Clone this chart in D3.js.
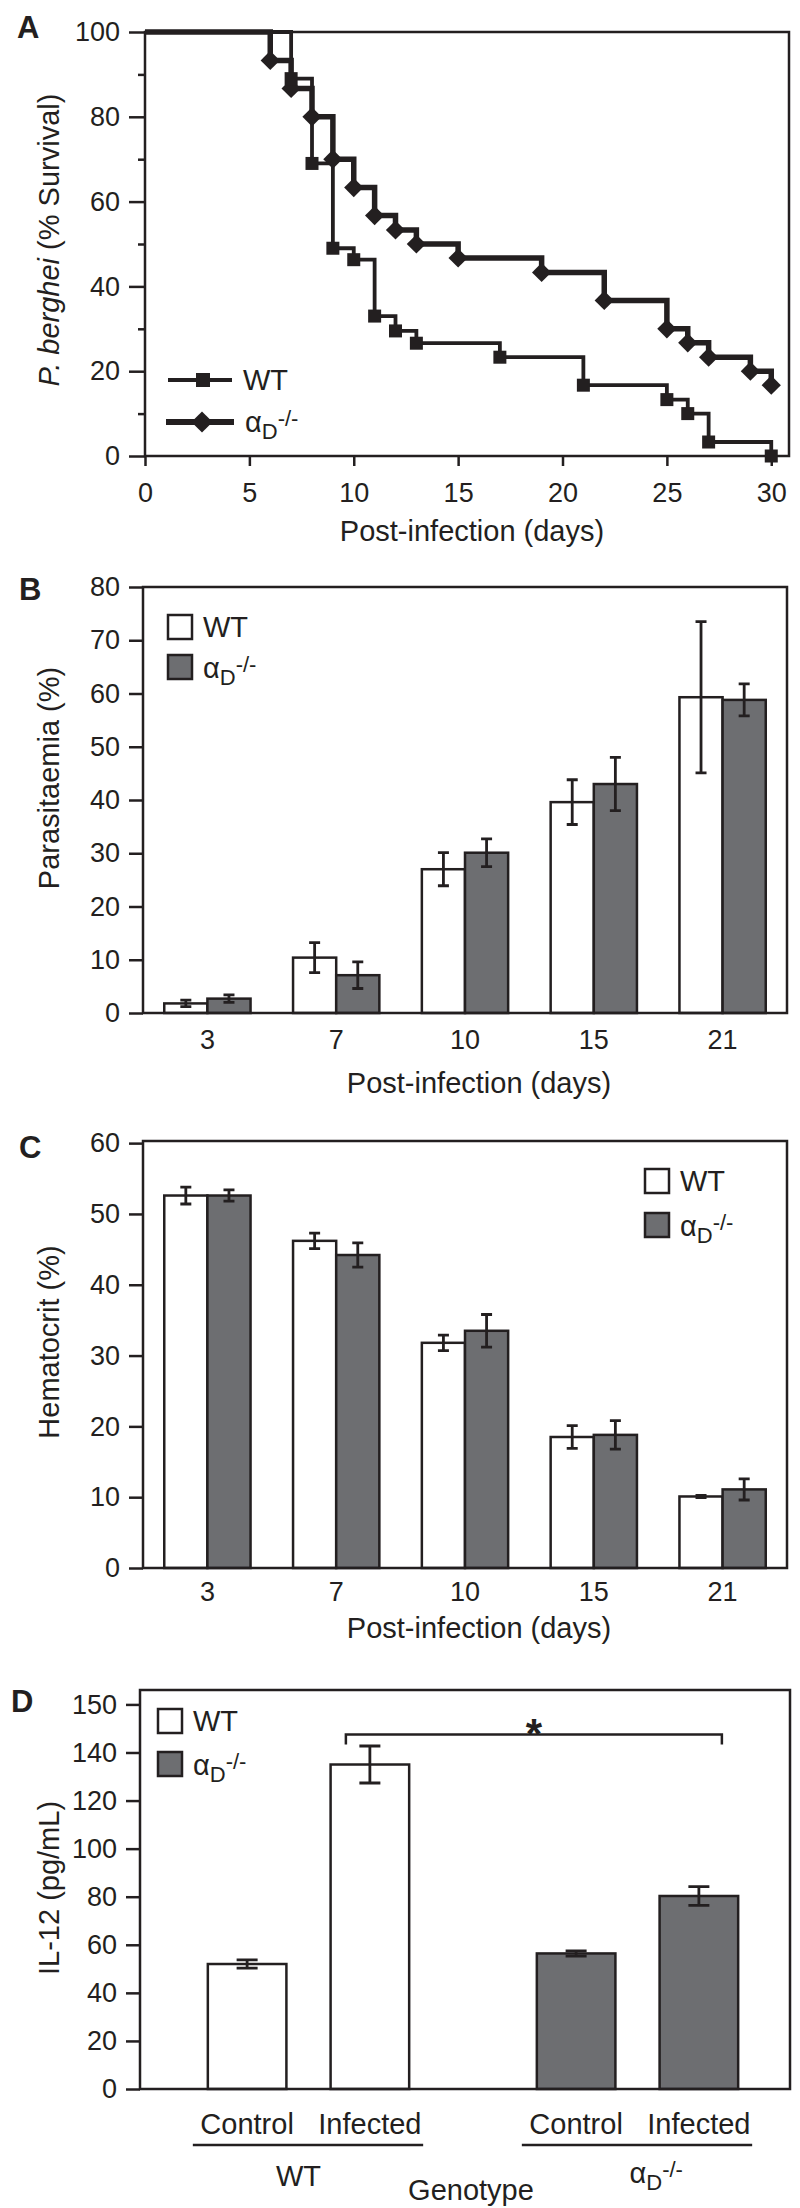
<!DOCTYPE html>
<html>
<head>
<meta charset="utf-8">
<script src="https://cdn.jsdelivr.net/npm/d3@7"></script>
<style>
  body { margin: 0; background: #fff; }
  svg { display: block; }
</style>
</head>
<body>
<div id="fig"></div>
<script>
// ---------- DATA ----------
// A: survival (Kaplan-Meier style steps)
const WT_DAYS = [0, 7, 8, 9, 10, 11, 12, 13, 17, 21, 25, 26, 27, 30];
const WT_SURV = [100, 89, 69, 49, 46.3, 33, 29.5, 26.6, 23.3, 16.7, 13.3, 10, 3.3, 0];
const KO_DAYS = [0, 6, 7, 8, 9, 10, 11, 12, 13, 15, 19, 22, 25, 26, 27, 29, 30];
const KO_SURV = [100, 93.3, 86.7, 80, 70, 63.3, 56.7, 53.3, 50, 46.7, 43.3, 36.7, 30, 26.7, 23.3, 20, 16.7];
const SURV_X_TICKS = [0, 5, 10, 15, 20, 25, 30];
const SURV_Y_TICKS = [0, 20, 40, 60, 80, 100];
const SURV_Y_MINOR = [10, 30, 50, 70, 90];

// B and C share the same days
const DAYS = ["3", "7", "10", "15", "21"];
const PARA_WT     = [1.8, 10.4, 27.0, 39.6, 59.3];
const PARA_WT_ERR = [0.6, 2.8, 3.1, 4.2, 14.2];
const PARA_KO     = [2.7, 7.1, 30.1, 43.0, 58.8];
const PARA_KO_ERR = [0.7, 2.5, 2.6, 5.0, 3.0];
const PARA_TICKS  = [0, 10, 20, 30, 40, 50, 60, 70, 80];

const HCT_WT     = [52.6, 46.2, 31.8, 18.5, 10.1];
const HCT_WT_ERR = [1.2, 1.1, 1.1, 1.6, 0.15];
const HCT_KO     = [52.6, 44.2, 33.5, 18.8, 11.1];
const HCT_KO_ERR = [0.8, 1.7, 2.3, 2.0, 1.5];
const HCT_TICKS  = [0, 10, 20, 30, 40, 50, 60];

// D: IL-12
const GENOTYPES  = ["WT", "KO"];
const CONDITIONS = ["Control", "Infected"];
const IL12_WT     = [52.0, 135.0];
const IL12_WT_ERR = [1.7, 7.7];
const IL12_KO     = [56.4, 80.3];
const IL12_KO_ERR = [1.1, 3.9];
const IL12_TICKS       = [0, 20, 40, 60, 80, 100, 120, 140, 160];
const IL12_TICK_LABELS = ["0", "20", "40", "60", "80", "100", "120", "140", "150"];

// ---------- STYLE ----------
const FONT = "'Liberation Sans', Arial, Helvetica, sans-serif";
const INK = "#231f20";
const GRAY = "#6d6e71";
const TICK_FS = 27;
const LABEL_FS = 29;

const SVG = d3.select("#fig").append("svg")
    .attr("width", 800)
    .attr("height", 2208)
    .attr("font-family", FONT);

// ---------- HELPERS ----------
function styleAxis(g, fs) {
  g.attr("font-family", FONT).attr("font-size", fs);
  g.select(".domain").remove();
  g.selectAll(".tick line").attr("stroke", INK).attr("stroke-width", 2.5);
  g.selectAll(".tick text").attr("fill", INK);
}

function frame(p) {
  SVG.append("rect")
      .attr("x", p.left).attr("y", p.top)
      .attr("width", p.right - p.left)
      .attr("height", p.bottom - p.top)
      .attr("fill", "none")
      .attr("stroke", INK)
      .attr("stroke-width", 2.5);
}

function panelLetter(txt, x, y) {
  SVG.append("text").attr("x", x).attr("y", y)
      .attr("font-size", 31).attr("font-weight", "bold")
      .attr("fill", INK).text(txt);
}

function yTitle(x, yc, build) {
  const t = SVG.append("text")
      .attr("transform", "translate(" + x + "," + yc + ") rotate(-90)")
      .attr("text-anchor", "middle")
      .attr("font-size", LABEL_FS)
      .attr("fill", INK);
  build(t);
}

function xTitle(x, y, txt) {
  SVG.append("text").attr("x", x).attr("y", y)
      .attr("text-anchor", "middle")
      .attr("font-size", LABEL_FS)
      .attr("fill", INK).text(txt);
}

// alpha_D -/- label
function koLabel(sel, x, y, anchor) {
  const t = sel.append("text").attr("x", x).attr("y", y)
      .attr("font-size", LABEL_FS).attr("fill", INK)
      .attr("text-anchor", anchor || "start");
  t.append("tspan").text("\u03b1");
  t.append("tspan").attr("font-size", 22).attr("dy", 7).text("D");
  t.append("tspan").attr("font-size", 22).attr("dy", -13).text("-/-");
  return t;
}

function boxLegend(x, y1, y2, size) {
  SVG.append("rect").attr("x", x).attr("y", y1).attr("width", size).attr("height", size)
      .attr("fill", "#fff").attr("stroke", INK).attr("stroke-width", 2.5);
  SVG.append("text").attr("x", x + size + 11).attr("y", y1 + size - 2)
      .attr("font-size", LABEL_FS).attr("fill", INK).text("WT");
  SVG.append("rect").attr("x", x).attr("y", y2).attr("width", size).attr("height", size)
      .attr("fill", GRAY).attr("stroke", INK).attr("stroke-width", 2.5);
  koLabel(SVG, x + size + 11, y2 + size - 1);
}

function errorBar(g, cx, y, v, e, capW) {
  const path = d3.path();
  path.moveTo(cx, y(v + e)); path.lineTo(cx, y(v - e));
  path.moveTo(cx - capW / 2, y(v + e)); path.lineTo(cx + capW / 2, y(v + e));
  path.moveTo(cx - capW / 2, y(v - e)); path.lineTo(cx + capW / 2, y(v - e));
  g.append("path").attr("d", path.toString())
      .attr("fill", "none").attr("stroke", INK).attr("stroke-width", 2.8);
}

// ---------- PANEL A ----------
const PA = {left: 145, right: 789, top: 32, bottom: 456};
const X_A = d3.scaleLinear().domain([0, 30.85]).range([PA.left, PA.right]);
const Y_A = d3.scaleLinear().domain([0, 100]).range([PA.bottom, PA.top]);

const stepLine = d3.line()
    .x(d => X_A(d[0]))
    .y(d => Y_A(d[1]))
    .curve(d3.curveStepAfter);

const wtPts = WT_DAYS.map((d, i) => [d, WT_SURV[i]]);
const koPts = KO_DAYS.map((d, i) => [d, KO_SURV[i]]);

frame(PA);

SVG.append("path").datum(koPts)
    .attr("d", stepLine).attr("fill", "none")
    .attr("stroke", INK).attr("stroke-width", 5.5);
SVG.append("path").datum(wtPts)
    .attr("d", stepLine).attr("fill", "none")
    .attr("stroke", INK).attr("stroke-width", 3.8);

SVG.selectAll(".ko-pt").data(koPts.slice(1)).enter()
  .append("rect")
    .attr("class", "ko-pt")
    .attr("x", -6.8).attr("y", -6.8).attr("width", 13.6).attr("height", 13.6)
    .attr("transform", d => "translate(" + X_A(d[0]) + "," + Y_A(d[1]) + ") rotate(45)")
    .attr("fill", INK);

SVG.selectAll(".wt-pt").data(wtPts.slice(1)).enter()
  .append("rect")
    .attr("class", "wt-pt")
    .attr("x", d => X_A(d[0]) - 6.5).attr("y", d => Y_A(d[1]) - 6.5)
    .attr("width", 13).attr("height", 13)
    .attr("fill", INK);

SVG.append("g")
    .attr("transform", "translate(" + PA.left + ",0)")
    .call(d3.axisLeft(Y_A).tickValues(SURV_Y_TICKS).tickSize(16).tickPadding(9))
    .call(g => styleAxis(g, TICK_FS));
SVG.append("g")
    .attr("transform", "translate(" + PA.left + ",0)")
    .call(d3.axisLeft(Y_A).tickValues(SURV_Y_MINOR).tickSize(7).tickFormat(""))
    .call(g => styleAxis(g, TICK_FS));
SVG.append("g")
    .attr("transform", "translate(0," + PA.bottom + ")")
    .call(d3.axisBottom(X_A).tickValues(SURV_X_TICKS).tickSize(10).tickPadding(17))
    .call(g => styleAxis(g, TICK_FS));

// legend A
SVG.append("line").attr("x1", 168).attr("x2", 232).attr("y1", 380).attr("y2", 380)
    .attr("stroke", INK).attr("stroke-width", 4);
SVG.append("rect").attr("x", 196).attr("y", 373).attr("width", 14).attr("height", 14).attr("fill", INK);
SVG.append("text").attr("x", 243).attr("y", 390).attr("font-size", LABEL_FS).attr("fill", INK).text("WT");
SVG.append("line").attr("x1", 166).attr("x2", 234).attr("y1", 422).attr("y2", 422)
    .attr("stroke", INK).attr("stroke-width", 6);
SVG.append("rect").attr("x", -7.5).attr("y", -7.5).attr("width", 15).attr("height", 15)
    .attr("transform", "translate(202,422) rotate(45)").attr("fill", INK);
koLabel(SVG, 245, 432);

panelLetter("A", 17, 38);
xTitle(472, 541, "Post-infection (days)");
yTitle(59, 240, t => {
  t.append("tspan").attr("font-style", "italic").text("P. berghei");
  t.append("tspan").text(" (% Survival)");
});

// ---------- PANELS B & C ----------
function barPanel(P, yMax, ticks, wt, wtErr, ko, koErr, tickPad) {
  const x = d3.scaleBand().domain(DAYS).range([P.left, P.right])
      .paddingInner(0.33).paddingOuter(0.165);
  const xSub = d3.scaleBand().domain(GENOTYPES).range([0, x.bandwidth()]);
  const y = d3.scaleLinear().domain([0, yMax]).range([P.bottom, P.top]);

  const rows = DAYS.flatMap((d, i) => [
    {day: d, g: "WT", v: wt[i], e: wtErr[i]},
    {day: d, g: "KO", v: ko[i], e: koErr[i]}
  ]);

  const g = SVG.append("g");
  g.selectAll("rect").data(rows).enter()
    .append("rect")
      .attr("x", d => x(d.day) + xSub(d.g))
      .attr("y", d => y(d.v))
      .attr("width", xSub.bandwidth())
      .attr("height", d => y(0) - y(d.v))
      .attr("fill", d => d.g === "WT" ? "#fff" : GRAY)
      .attr("stroke", INK)
      .attr("stroke-width", 2.5);
  rows.forEach(d => errorBar(g, x(d.day) + xSub(d.g) + xSub.bandwidth() / 2, y, d.v, d.e, 11));

  frame(P);
  SVG.append("g")
      .attr("transform", "translate(" + P.left + ",0)")
      .call(d3.axisLeft(y).tickValues(ticks).tickSize(14).tickPadding(9))
      .call(gg => styleAxis(gg, TICK_FS));
  SVG.append("g")
      .attr("transform", "translate(0," + P.bottom + ")")
      .call(d3.axisBottom(x).tickSize(0).tickPadding(tickPad))
      .call(gg => styleAxis(gg, TICK_FS));
}

const PB = {left: 143, right: 787, top: 587, bottom: 1013};
barPanel(PB, 80, PARA_TICKS, PARA_WT, PARA_WT_ERR, PARA_KO, PARA_KO_ERR, 17);
boxLegend(168, 615, 655, 24);
panelLetter("B", 19, 600);
xTitle(479, 1093, "Post-infection (days)");
yTitle(59, 778, t => t.text("Parasitaemia (%)"));

const PC = {left: 143, right: 787, top: 1141, bottom: 1568};
barPanel(PC, 60.3, HCT_TICKS, HCT_WT, HCT_WT_ERR, HCT_KO, HCT_KO_ERR, 14);
boxLegend(645, 1169, 1213, 24);
panelLetter("C", 19, 1158);
xTitle(479, 1638, "Post-infection (days)");
yTitle(59, 1342, t => t.text("Hematocrit (%)"));

// ---------- PANEL D ----------
const PD = {left: 140, right: 790, top: 1690, bottom: 2089};
const X_D = d3.scaleBand().domain(GENOTYPES).range([144, 802]);
const X_D_SUB = d3.scaleBand().domain(CONDITIONS).range([0, X_D.bandwidth()])
    .paddingInner(0.36).paddingOuter(0.52);
const Y_D = d3.scaleLinear().domain([0, 166]).range([PD.bottom, PD.top]);

const il12Rows = [];
CONDITIONS.forEach((c, i) => il12Rows.push({g: "WT", c: c, v: IL12_WT[i], e: IL12_WT_ERR[i]}));
CONDITIONS.forEach((c, i) => il12Rows.push({g: "KO", c: c, v: IL12_KO[i], e: IL12_KO_ERR[i]}));
const cxD = d => X_D(d.g) + X_D_SUB(d.c) + X_D_SUB.bandwidth() / 2;

const gD = SVG.append("g");
gD.selectAll("rect").data(il12Rows).enter()
  .append("rect")
    .attr("x", d => X_D(d.g) + X_D_SUB(d.c))
    .attr("y", d => Y_D(d.v))
    .attr("width", X_D_SUB.bandwidth())
    .attr("height", d => Y_D(0) - Y_D(d.v))
    .attr("fill", d => d.g === "WT" ? "#fff" : GRAY)
    .attr("stroke", INK)
    .attr("stroke-width", 2.5);
il12Rows.forEach(d => errorBar(gD, cxD(d), Y_D, d.v, d.e, 21));

frame(PD);
SVG.append("g")
    .attr("transform", "translate(" + PD.left + ",0)")
    .call(d3.axisLeft(Y_D).tickValues(IL12_TICKS).tickSize(14).tickPadding(9)
            .tickFormat((d, i) => IL12_TICK_LABELS[i]))
    .call(g => styleAxis(g, TICK_FS));

// condition labels under each bar
SVG.selectAll(".cond").data(il12Rows).enter()
  .append("text")
    .attr("class", "cond")
    .attr("x", cxD)
    .attr("y", 2134)
    .attr("text-anchor", "middle")
    .attr("font-size", LABEL_FS)
    .attr("fill", INK)
    .text(d => d.c);

// genotype underlines and labels
GENOTYPES.forEach(gname => {
  const x0 = X_D(gname) + X_D_SUB(CONDITIONS[0]) - 15;
  const x1 = X_D(gname) + X_D_SUB(CONDITIONS[1]) + X_D_SUB.bandwidth() + 14;
  SVG.append("line").attr("x1", x0).attr("x2", x1).attr("y1", 2145).attr("y2", 2145)
      .attr("stroke", INK).attr("stroke-width", 2.5);
});
SVG.append("text").attr("x", X_D("WT") + X_D.bandwidth() / 2 - 10).attr("y", 2186)
    .attr("text-anchor", "middle").attr("font-size", LABEL_FS).attr("fill", INK).text("WT");
koLabel(SVG, X_D("KO") + X_D.bandwidth() / 2 - 8, 2183);
xTitle(471, 2200, "Genotype");

// significance bracket
const bx0 = cxD(il12Rows[1]) - 24;
const bx1 = cxD(il12Rows[3]) + 23;
const by = Y_D(147.5);
SVG.append("path")
    .attr("d", "M" + bx0 + "," + (by + 10) + "V" + by + "H" + bx1 + "V" + (by + 10))
    .attr("fill", "none").attr("stroke", INK).attr("stroke-width", 2.5);
SVG.append("text").attr("x", (bx0 + bx1) / 2).attr("y", by + 14)
    .attr("text-anchor", "middle").attr("font-size", 42).attr("font-weight", "bold")
    .attr("fill", INK).text("*");

boxLegend(158, 1709, 1752, 24);
panelLetter("D", 11, 1712);
yTitle(59, 1888, t => t.text("IL-12 (pg/mL)"));
</script>
</body>
</html>
